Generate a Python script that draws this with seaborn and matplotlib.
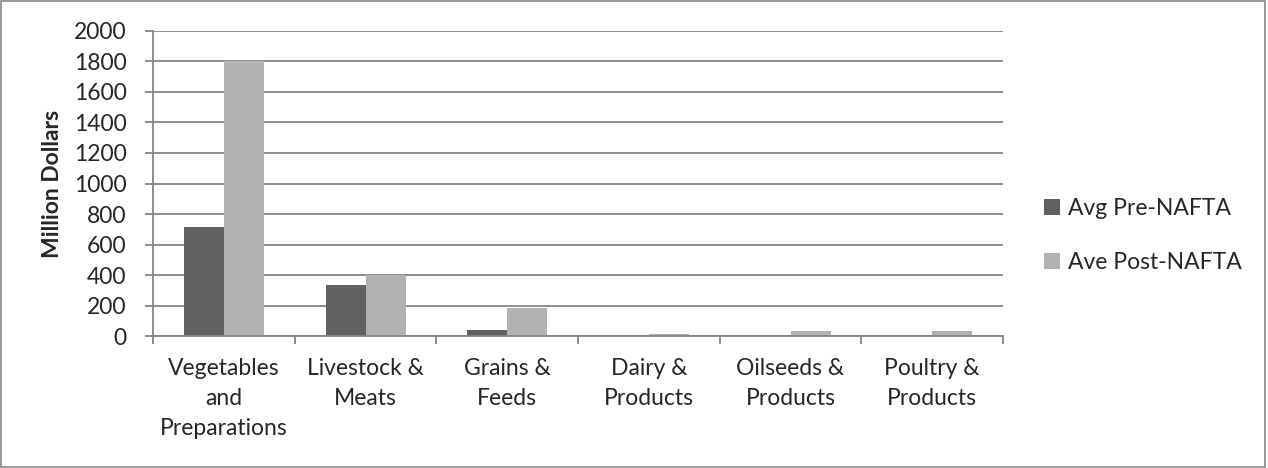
import numpy as np
import pandas as pd
import matplotlib
matplotlib.use('Agg')
import matplotlib.pyplot as plt
from matplotlib.patches import Rectangle
import seaborn as sns

categories = ['Vegetables\nand\nPreparations', 'Livestock &\nMeats', 'Grains &\nFeeds',
              'Dairy &\nProducts', 'Oilseeds &\nProducts', 'Poultry &\nProducts']
pre_nafta = [715, 333, 38, 0, 4, 0]
post_nafta = [1800, 400, 182, 16, 31, 31]
series = ['Avg Pre-NAFTA', 'Ave Post-NAFTA']

df = pd.DataFrame({
    'category': categories * 2,
    'value': pre_nafta + post_nafta,
    'series': [series[0]] * len(categories) + [series[1]] * len(categories),
})

sns.set_style('white')
plt.rcParams['font.family'] = ['Lato', 'DejaVu Sans']

fig = plt.figure(figsize=(12.68, 4.68), dpi=100)
ax = fig.add_axes([0.1207, 0.282, 0.6703, 0.6518])

sns.barplot(data=df, x='category', y='value', hue='series', order=categories,
            palette=['#616161', '#b2b2b2'], width=0.565, saturation=1,
            edgecolor='none', ax=ax)

ax.set_ylim(0, 2000)
ax.set_xlim(-0.5, len(categories) - 0.5)
ax.set_yticks(np.arange(0, 2001, 200))
ax.yaxis.grid(True, color='#868686', lw=1.3)
ax.set_axisbelow(True)

ax.set_xticks(np.arange(len(categories)))
ax.set_xticklabels(categories, fontsize=16.5, linespacing=1.52)
ax.set_xticks(np.arange(len(categories) + 1) - 0.5, minor=True)
ax.tick_params(axis='x', which='major', length=0, pad=16)
ax.tick_params(axis='x', which='minor', length=6, color='#868686', width=1.3, direction='out')
ax.tick_params(axis='y', length=6, color='#868686', width=1.3, direction='out', labelsize=16.5, pad=13)
ax.tick_params(left=True, bottom=True, which='both')

for side in ['top', 'right']:
    ax.spines[side].set_visible(False)
for side in ['left', 'bottom']:
    ax.spines[side].set_color('#868686')
    ax.spines[side].set_linewidth(1.3)

ax.set_xlabel('')
ax.set_ylabel('Million Dollars', fontsize=16.5, fontweight='bold', labelpad=8)

ax.legend(loc='center left', bbox_to_anchor=(1.024, 0.33), frameon=False, fontsize=16.5,
          handlelength=0.7, handleheight=0.7, handletextpad=0.35, labelspacing=1.45)

fig.patches.append(Rectangle((0.001, 0.002), 0.997, 0.995, transform=fig.transFigure,
                             fill=False, edgecolor='#868686', lw=1.2))

fig.savefig('out.png', dpi=100)
